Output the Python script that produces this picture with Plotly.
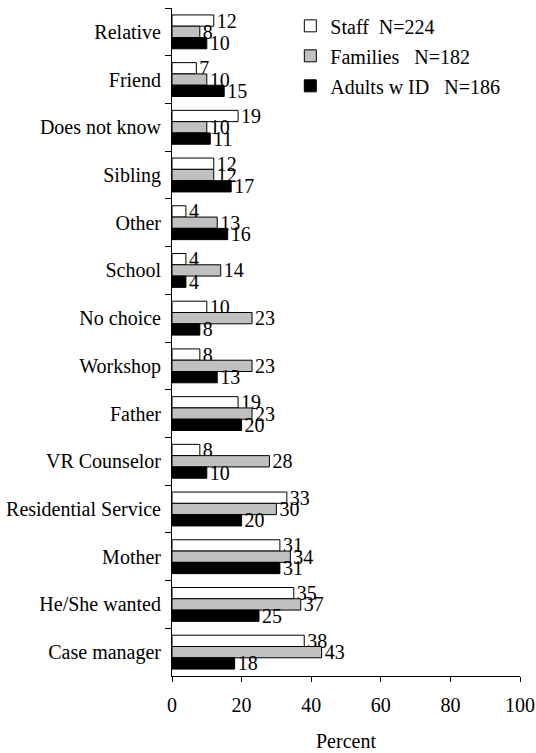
import plotly.graph_objects as go

categories = ["Relative", "Friend", "Does not know", "Sibling", "Other", "School",
              "No choice", "Workshop", "Father", "VR Counselor", "Residential Service",
              "Mother", "He/She wanted", "Case manager"]
staff = [12, 7, 19, 12, 4, 4, 10, 8, 19, 8, 33, 31, 35, 38]
families = [8, 10, 10, 12, 13, 14, 23, 23, 23, 28, 30, 34, 37, 43]
adults = [10, 15, 11, 17, 16, 4, 8, 13, 20, 10, 20, 31, 25, 18]
series_names = ["Staff  N=224", "Families   N=182", "Adults w ID   N=186"]
fills = ["white", "#C0C0C0", "black"]

FONT = "Liberation Serif"
FS = 20
fig = go.Figure()
for i, (name, vals, col) in enumerate(zip(series_names, [staff, families, adults], fills)):
    fig.add_trace(go.Bar(
        y=categories, x=vals, orientation="h", name=name,
        marker=dict(color=col, line=dict(color="black", width=1)),
        text=[str(v) for v in vals], textposition="outside",
        textfont=dict(family=FONT, size=FS, color="black"),
        constraintext="none", cliponaxis=False,
        legendgroup=str(i),
    ))

fig.update_layout(
    width=536, height=753,
    margin=dict(l=172, r=16, t=8, b=77, autoexpand=False),
    paper_bgcolor="white", plot_bgcolor="white",
    font=dict(family=FONT, size=FS, color="black"),
    barmode="group", bargap=0.29, bargroupgap=0,
    showlegend=True,
    legend=dict(x=0.34, y=1.0025, xanchor="left", yanchor="top",
                bgcolor="rgba(0,0,0,0)", font=dict(family=FONT, size=FS),
                tracegroupgap=1),
    xaxis=dict(range=[0, 100], tickvals=[0, 20, 40, 60, 80, 100],
               showline=True, linecolor="black", linewidth=1,
               ticks="outside", ticklen=5, tickcolor="black",
               tickfont=dict(family=FONT, size=FS), ticklabelstandoff=6,
               showgrid=False, zeroline=False, automargin=False,
               title=dict(text="Percent", font=dict(family=FONT, size=FS), standoff=18)),
    yaxis=dict(autorange="reversed", showline=True, linecolor="black", linewidth=1,
               ticks="outside", ticklen=6, tickcolor="black", tickson="boundaries",
               tickfont=dict(family=FONT, size=FS),
               showgrid=False, ticklabelstandoff=6, automargin=False),
)
fig.write_html("out.html", config={"displayModeBar": False},
               post_script="document.body.style.margin='0';document.body.style.overflow='hidden';")
